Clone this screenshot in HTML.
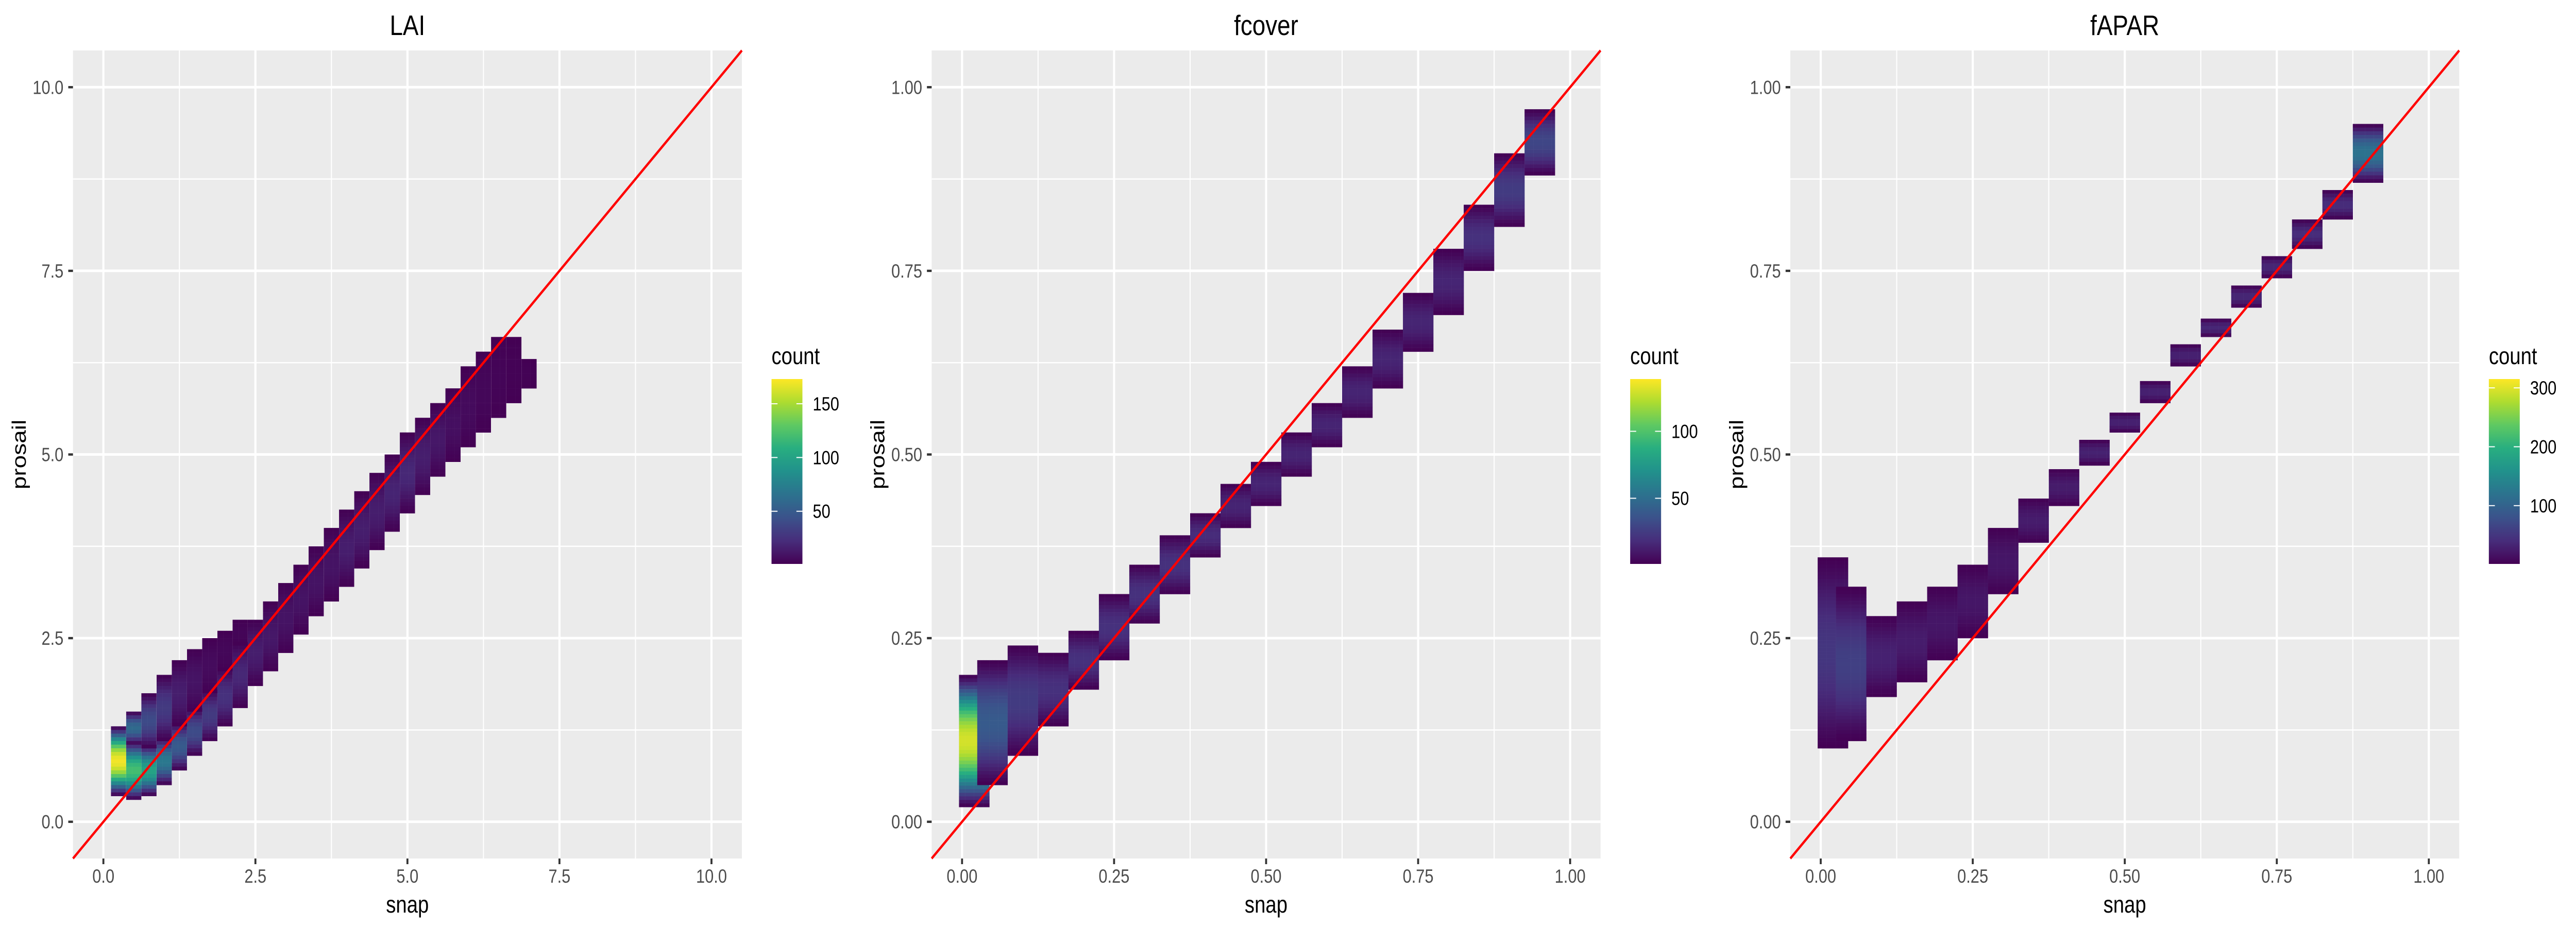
<!DOCTYPE html>
<html>
<head>
<meta charset="utf-8">
<meta name="viewport" content="width=6000">
<style>
html,body{margin:0;padding:0;background:#fff;overflow:hidden;width:100vw;height:100vh;}
svg{display:block;position:absolute;left:0;top:0;width:100vw;height:100vh;}
text{font-family:"Liberation Sans",Arial,sans-serif;}
</style>
</head>
<body>
<svg id="fig" viewBox="0 0 6000 1800" preserveAspectRatio="none" xmlns="http://www.w3.org/2000/svg">
<defs>
<linearGradient id="vir" x1="0" y1="1" x2="0" y2="0">
<stop offset="0" stop-color="#440154"/><stop offset="0.125" stop-color="#472d7b"/><stop offset="0.25" stop-color="#3b528b"/><stop offset="0.375" stop-color="#2c728e"/><stop offset="0.5" stop-color="#21918c"/><stop offset="0.625" stop-color="#28ae80"/><stop offset="0.75" stop-color="#5ec962"/><stop offset="0.875" stop-color="#addc30"/><stop offset="1" stop-color="#fde725"/>
</linearGradient>
</defs>
</svg>
<script>
// ---- LAI panel data ----
const laiX = [0.25,0.5,0.75,1.0,1.25,1.5,1.75,2.0,2.25,2.5,2.75,3.0,3.25,3.5,3.75,4.0,4.25,4.5,4.75,5.0,5.25,5.5,5.75,6.0,6.25,6.5,6.75,7.0];
const laiLo = [0.35,0.3,0.35,0.5,0.7,0.9,1.1,1.3,1.55,1.85,2.05,2.3,2.55,2.8,3.0,3.2,3.45,3.7,3.95,4.2,4.45,4.7,4.9,5.1,5.3,5.5,5.7,5.9];
const laiHi = [1.3,1.1,1.05,1.15,1.35,1.55,1.8,2.1,2.45,2.75,3.0,3.25,3.5,3.75,4.0,4.25,4.5,4.75,5.0,5.3,5.5,5.7,5.9,6.2,6.4,6.6,6.6,6.3];
const laiPeak = [170,120,100,70,50,40,30,25,20,15,12,10,10,10,10,15,15,15,18,20,15,12,8,6,4,3,2,2];
const laiUpX = [0.5,0.75,1.0,1.25,1.5,1.75,2.0,2.25];
const laiUpLo = [1.05,1.0,1.1,1.3,1.5,1.75,2.05,2.4];
const laiUpHi = [1.5,1.75,2.0,2.2,2.35,2.5,2.6,2.75];
const laiUpPeak = [60,40,30,15,10,6,4,3];
// ---- fcover panel data ----
const fcX = [0.02,0.05,0.1,0.15,0.2,0.25,0.3,0.35,0.4,0.45,0.5,0.55,0.6,0.65,0.7,0.75,0.8,0.85,0.9,0.95];
const fcLo = [0.02,0.05,0.09,0.13,0.18,0.22,0.27,0.31,0.36,0.40,0.43,0.47,0.51,0.55,0.59,0.64,0.69,0.75,0.81,0.88];
const fcHi = [0.2,0.22,0.24,0.23,0.26,0.31,0.35,0.39,0.42,0.46,0.49,0.53,0.57,0.62,0.67,0.72,0.78,0.84,0.91,0.97];
const fcPeak = [130,40,25,20,20,20,20,20,18,15,15,15,15,15,15,15,15,20,25,30];
// ---- fAPAR panel data ----
const faX = [0.02,0.05,0.1,0.15,0.2,0.25,0.3,0.35,0.4,0.45,0.5,0.55,0.6,0.65,0.7,0.75,0.8,0.85,0.9];
const faLo = [0.10,0.11,0.17,0.19,0.22,0.25,0.31,0.38,0.43,0.485,0.53,0.57,0.62,0.66,0.70,0.74,0.78,0.82,0.87];
const faHi = [0.36,0.32,0.28,0.30,0.32,0.35,0.40,0.44,0.48,0.52,0.557,0.60,0.65,0.685,0.73,0.77,0.82,0.86,0.95];
const faPeak = [50,60,30,25,20,20,20,25,25,30,30,30,30,35,35,35,40,40,120];
// ---- tick labels / legend ----
const laiTicks = [0,2.5,5,7.5,10];
const laiTickLabels = ["0.0","2.5","5.0","7.5","10.0"];
const fracTicks = [0,0.25,0.5,0.75,1];
const fracTickLabels = ["0.00","0.25","0.50","0.75","1.00"];
const titles = ["LAI","fcover","fAPAR"];
const legendLimits = [[1,173],[1,139],[1,315]];
const legendBreaks = [[50,100,150],[50,100],[100,200,300]];

const NS = "http://www.w3.org/2000/svg";
const svg = document.getElementById("fig");
const VIR = ["#440154","#472d7b","#3b528b","#2c728e","#21918c","#28ae80","#5ec962","#addc30","#fde725"];
function hex(c){return [parseInt(c.slice(1,3),16),parseInt(c.slice(3,5),16),parseInt(c.slice(5,7),16)];}
function viridis(t){
  t=Math.max(0,Math.min(1,t));
  const s=t*(VIR.length-1), i=Math.min(VIR.length-2,Math.floor(s)), f=s-i;
  const a=hex(VIR[i]), b=hex(VIR[i+1]);
  return "rgb("+a.map((v,k)=>Math.round(v+(b[k]-v)*f)).join(",")+")";
}
function el(tag, attrs, parent){
  const e=document.createElementNS(NS,tag);
  for(const k in attrs) e.setAttribute(k,attrs[k]);
  (parent||svg).appendChild(e);
  return e;
}

const PL=170, PR=1728, PT=98, PB=1667;

function panel(k, lim, ticks, tickLabels, series, colW, legLim, legBreaks){
  const ox=2000*k;
  const g=el("g",{});
  
  
  const sx=v=>ox+PL+(v-lim[0])/(lim[1]-lim[0])*(PR-PL);
  const sy=v=>PB-(v-lim[0])/(lim[1]-lim[0])*(PB-PT);
  const bg=el("rect",{x:ox+PL,y:PT,width:PR-PL,height:PB-PT,fill:"#ebebeb"},g);
  
  
  for(let i=0;i<ticks.length-1;i++){
    const m=(ticks[i]+ticks[i+1])/2;
    const gl1=el("line",{x1:sx(m),x2:sx(m),y1:PT,y2:PB,stroke:"#fff","stroke-width":2.5},g);
    
    
    const gl2=el("line",{x1:ox+PL,x2:ox+PR,y1:sy(m),y2:sy(m),stroke:"#fff","stroke-width":2.5},g);
    
    
  }
  ticks.forEach((t,i)=>{
    const a=el("line",{x1:sx(t),x2:sx(t),y1:PT,y2:PB,stroke:"#fff","stroke-width":5},g);
    
    
    const b=el("line",{x1:ox+PL,x2:ox+PR,y1:sy(t),y2:sy(t),stroke:"#fff","stroke-width":5},g);
    
    
    const tx=el("line",{x1:sx(t),x2:sx(t),y1:PB,y2:PB+11,stroke:"#333","stroke-width":4.5},g);
    
    
    const ty=el("line",{x1:ox+PL-11,x2:ox+PL,y1:sy(t),y2:sy(t),stroke:"#333","stroke-width":4.5},g);
    
    
    const lx=el("text",{x:sx(t),y:1714,"font-size":37,fill:"#4d4d4d","text-anchor":"middle"},g);
    lx.textContent=tickLabels[i];
    
    
    const ly=el("text",{x:ox+PL-22,y:sy(t)+13,"font-size":37,fill:"#4d4d4d","text-anchor":"end"},g);
    ly.textContent=tickLabels[i];
    
    
  });
  const cell=7;
  const bins=el("g",{},g);
  
  
  series.forEach(s=>{
    for(let i=0;i<s.x.length;i++){
      const x0=sx(s.x[i]-colW/2), x1=sx(s.x[i]+colW/2);
      const yTop=sy(s.hi[i]), yBot=sy(s.lo[i]);
      const nR=Math.max(1,Math.round((yBot-yTop)/cell));
      const ch=(yBot-yTop)/nR;
      for(let cx=x0; cx<x1-0.5; cx+=cell){
        const w=Math.min(cell,x1-cx)+0.3;
        for(let r=0;r<nR;r++){
          const tt=(r+0.5)/nR;
          const shape=1-Math.pow(2*tt-1,2);
          const c=1+(s.peak[i]-1)*Math.pow(shape,1.5);
          const rc=el("rect",{x:cx.toFixed(1),y:(yTop+r*ch).toFixed(1),width:w.toFixed(1),height:(ch+0.3).toFixed(1),fill:viridis((c-legLim[0])/(legLim[1]-legLim[0]))},bins);
          
          
        }
      }
    }
  });
  const ab=el("line",{x1:sx(lim[0]),y1:sy(lim[0]),x2:sx(lim[1]),y2:sy(lim[1]),stroke:"#ff0000","stroke-width":5},g);
  
  
  const cx=ox+(PL+PR)/2;
  const tt=el("text",{x:cx,y:68,"font-size":55,fill:"#000","text-anchor":"middle"},g);
  tt.textContent=titles[k];
  
  
  const xt=el("text",{x:cx,y:1772,"font-size":46,fill:"#000","text-anchor":"middle"},g);
  xt.textContent="snap";
  
  
  const yt=el("text",{x:0,y:0,"font-size":46,fill:"#000","text-anchor":"middle",transform:"translate("+(ox+60)+","+((PT+PB)/2)+") rotate(-90)"},g);
  yt.textContent="prosail";
  
  
  const LX=ox+1797, LW=72, LT=736, LB=1095;
  const lg=el("g",{},g);
  
  
  const lt=el("text",{x:LX,y:707,"font-size":46,fill:"#000"},lg);
  lt.textContent="count";
  
  
  const bar=el("rect",{x:LX,y:LT,width:LW,height:LB-LT,fill:"url(#vir)"},lg);
  
  
  const ly=v=>LB-(v-legLim[0])/(legLim[1]-legLim[0])*(LB-LT);
  legBreaks.forEach(b=>{
    const y=ly(b);
    const t1=el("line",{x1:LX,x2:LX+14,y1:y,y2:y,stroke:"#fff","stroke-width":2},lg);
    
    
    const t2=el("line",{x1:LX+LW-14,x2:LX+LW,y1:y,y2:y,stroke:"#fff","stroke-width":2},lg);
    
    
    const lb=el("text",{x:LX+96,y:y+13,"font-size":37,fill:"#000"},lg);
    lb.textContent=String(b);
    
    
  });
}

panel(0,[-0.5,10.5],laiTicks,laiTickLabels,
  [{x:laiX,lo:laiLo,hi:laiHi,peak:laiPeak},{x:laiUpX,lo:laiUpLo,hi:laiUpHi,peak:laiUpPeak}],
  0.25,legendLimits[0],legendBreaks[0]);
panel(1,[-0.05,1.05],fracTicks,fracTickLabels,
  [{x:fcX,lo:fcLo,hi:fcHi,peak:fcPeak}],0.05,legendLimits[1],legendBreaks[1]);
panel(2,[-0.05,1.05],fracTicks,fracTickLabels,
  [{x:faX,lo:faLo,hi:faHi,peak:faPeak}],0.05,legendLimits[2],legendBreaks[2]);
</script>
</body>
</html>
